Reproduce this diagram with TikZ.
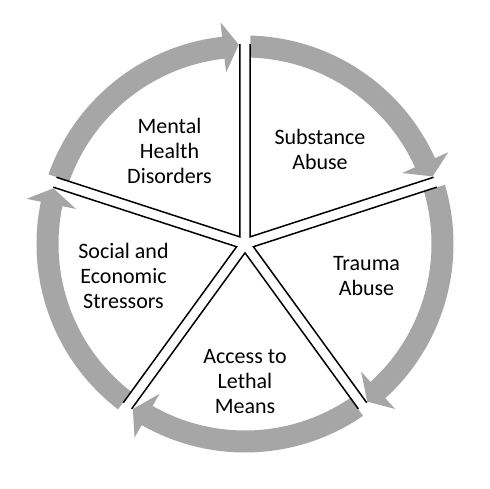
\documentclass[tikz,border=0pt]{standalone}
\usepackage{fontspec}
\setmainfont{Carlito}
\usetikzlibrary{calc}
\definecolor{arrowgray}{HTML}{A6A6A6}
\tikzset{
  ringarrow/.style={fill=arrowgray, draw=none},
  divider/.style={draw=black, line width=1.5pt},
  lbl/.style={align=center, font=\fontsize{22}{25}\selectfont, inner sep=0pt}
}
\begin{document}
\begin{tikzpicture}[x=1pt,y=1pt]
\useasboundingbox (0,0) rectangle (490,488);
\fill[white] (0,0) rectangle (490,488);
\coordinate (c) at (245,244);
% ring arrows (clockwise)
\foreach \a in {90,18,-54,-126,162} {
  \pgfmathsetmacro{\b}{\a-72}
  \fill[ringarrow] ($(c)+(\a-1.69:186.5)$) -- ($(c)+(\a-1.51:208.5)$)
    arc[start angle=\a-1.51, end angle=\b+6.3, radius=208.5]
    -- ($(c)+(\b+6.3:223)$) -- ($(c)+(\b+1.8:199.5)$) -- ($(c)+(\b+6.3:172.5)$)
    -- ($(c)+(\b+6.3:186.5)$)
    arc[start angle=\b+6.3, end angle=\a-1.69, radius=186.5] -- cycle;
}
% sector dividers
\foreach \a in {90,18,-54,-126,162} {
  \pgfmathsetmacro{\t}{\a-36}
  \draw[divider] ($(c)+(\t:8.85)+(\t+36:192.8)$) -- ($(c)+(\t:8.85)$)
    -- ($(c)+(\t:8.85)+(\t-36:192.8)$);
}
% labels
\node[lbl] (mhd) at (169.5,337.5) {Mental\\Health\\Disorders};
\node[lbl] (sa) at (320,339) {Substance\\Abuse};
\node[lbl] (ta) at (366.5,212) {Trauma\\Abuse};
\node[lbl] (alm) at (245,106) {Access to\\Lethal\\Means};
\node[lbl] (ses) at (123.5,212) {Social and\\Economic\\Stressors};
\end{tikzpicture}
\end{document}
